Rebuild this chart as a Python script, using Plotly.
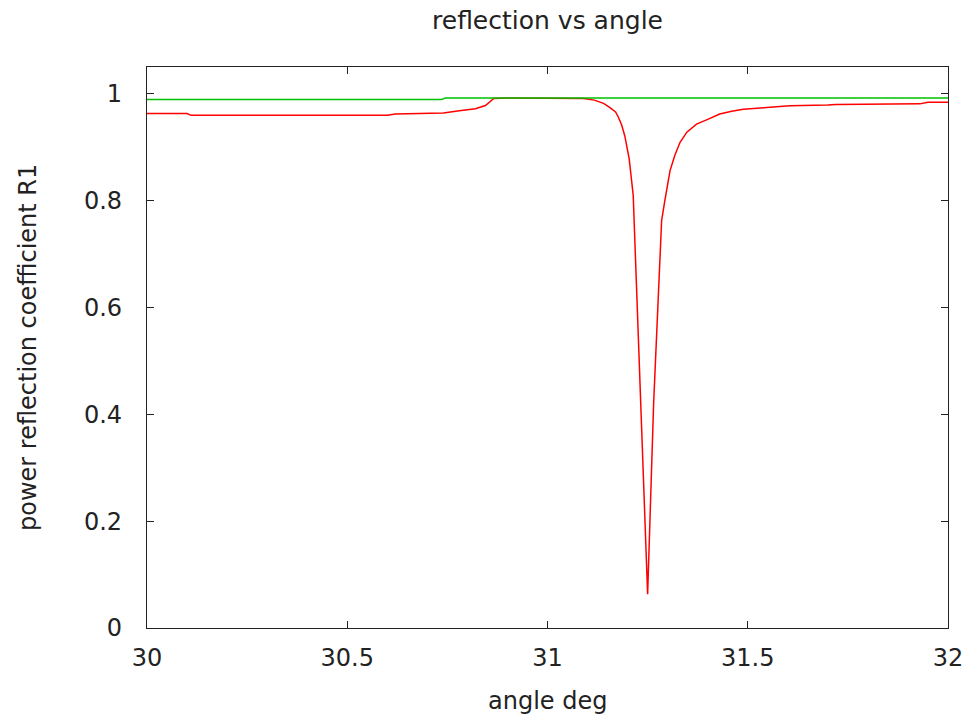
import plotly.graph_objects as go

# green curve (R for first polarization)
green_x = [30.0, 30.735, 30.745, 32.0]
green_y = [0.989, 0.989, 0.992, 0.992]

# red curve (resonant dip)
red_x = [30.0, 30.10, 30.11, 30.60, 30.62, 30.72, 30.74, 30.78, 30.82, 30.845, 30.858, 30.866,
         30.90, 31.00, 31.09, 31.117, 31.14, 31.156, 31.17, 31.177, 31.185, 31.193, 31.204,
         31.214, 31.25, 31.265, 31.285, 31.293, 31.306, 31.318, 31.331, 31.348, 31.372,
         31.40, 31.43, 31.46, 31.489, 31.547, 31.605, 31.70, 31.72, 31.93, 31.95, 32.0]
red_y = [0.963, 0.963, 0.9595, 0.9595, 0.962, 0.9625, 0.964, 0.968, 0.972, 0.978, 0.985, 0.991,
         0.992, 0.992, 0.991, 0.988, 0.982, 0.974, 0.966, 0.956, 0.942, 0.921, 0.878,
         0.81, 0.063, 0.42, 0.763, 0.80, 0.856, 0.885, 0.909, 0.928, 0.943,
         0.952, 0.962, 0.967, 0.971, 0.974, 0.9776, 0.979, 0.980, 0.981, 0.984, 0.984]

x_ticks = [30, 30.5, 31, 31.5, 32]
x_tick_labels = ["30", "30.5", "31", "31.5", "32"]
y_ticks = [0, 0.2, 0.4, 0.6, 0.8, 1]
y_tick_labels = ["0", "0.2", "0.4", "0.6", "0.8", "1"]

W, H = 969, 716
L, R, T, B = 147, 21, 67, 88

fig = go.Figure()
fig.add_trace(go.Scatter(x=red_x, y=red_y, mode="lines",
                         line=dict(color="#ff0000", width=1.5), showlegend=False))
fig.add_trace(go.Scatter(x=green_x, y=green_y, mode="lines",
                         line=dict(color="#00c000", width=1.5), showlegend=False))

tick_font = dict(family="DejaVu Sans", size=24, color="#222222")
title_font = dict(family="DejaVu Sans", size=24, color="#222222")
fig.update_layout(
    width=W, height=H,
    margin=dict(l=L, r=R, t=T, b=B, autoexpand=False),
    paper_bgcolor="white", plot_bgcolor="white",
    font=tick_font,
    title=dict(text="reflection vs angle", x=(L + W - R) / 2 / W, xanchor="center",
               y=1 - 20 / H, yanchor="middle", font=dict(family="DejaVu Sans", size=25, color="#222222")),
    xaxis=dict(range=[30, 32], tickvals=x_ticks, ticktext=x_tick_labels,
               ticks="inside", ticklen=7, tickcolor="#222", mirror="ticks",
               showline=True, linecolor="#222", linewidth=1.2, showgrid=False, zeroline=False,
               automargin=False, ticklabelstandoff=8, tickfont=tick_font),
    yaxis=dict(range=[0, 1.05], tickvals=y_ticks, ticktext=y_tick_labels,
               ticks="inside", ticklen=7, tickcolor="#222", mirror="ticks",
               showline=True, linecolor="#222", linewidth=1.2, showgrid=False, zeroline=False,
               automargin=False, ticklabelstandoff=19, tickfont=tick_font),
    annotations=[
        dict(text="angle deg", xref="paper", yref="paper",
             x=0.5, y=-(701 - (H - B)) / (H - T - B), xanchor="center", yanchor="middle",
             showarrow=False, font=title_font),
        dict(text="power reflection coefficient R1", xref="paper", yref="paper",
             x=-(L - 28) / (W - L - R), y=(H - B - 348) / (H - T - B), xanchor="center", yanchor="middle",
             textangle=-90, showarrow=False, font=title_font),
    ],
)
fig.write_html("out.html")
